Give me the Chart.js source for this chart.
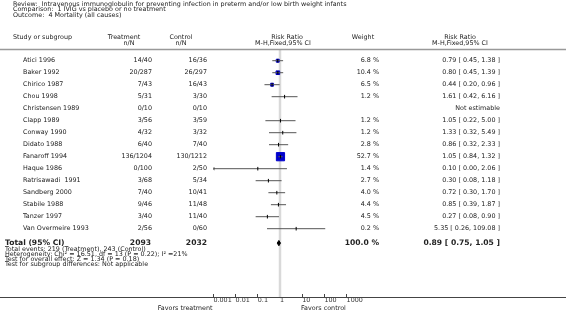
<!DOCTYPE html>
<html>
<head>
<meta charset="utf-8">
<script src="https://cdn.jsdelivr.net/npm/chart.js@4.4.0/dist/chart.umd.min.js"></script>
<style>
  html, body { margin: 0; padding: 0; background: #fff; }
</style>
</head>
<body>
<canvas id="forest" width="566" height="313"></canvas>
<script>
// header text
var titleLines = [
  'Review:  Intravenous immunoglobulin for preventing infection in preterm and/or low birth weight infants',
  'Comparison:  1 IVIG vs placebo or no treatment',
  'Outcome:  4 Mortality (all causes)'
];

// one entry per study
var studies = ['Atici 1996', 'Baker 1992', 'Chirico 1987', 'Chou 1998', 'Christensen 1989', 'Clapp 1989',
  'Conway 1990', 'Didato 1988', 'Fanaroff 1994', 'Haque 1986', 'Ratrisawadi  1991', 'Sandberg 2000',
  'Stabile 1988', 'Tanzer 1997', 'Van Overmeire 1993'];
var treatment = ['14/40', '20/287', '7/43', '5/31', '0/10', '3/56', '4/32', '6/40', '136/1204', '0/100',
  '3/68', '7/40', '9/46', '3/40', '2/56'];
var control = ['16/36', '26/297', '16/43', '3/30', '0/10', '3/59', '3/32', '7/40', '130/1212', '2/50',
  '5/34', '10/41', '11/48', '11/40', '0/60'];
var weights = [6.8, 10.4, 6.5, 1.2, null, 1.2, 1.2, 2.8, 52.7, 1.4, 2.7, 4.0, 4.4, 4.5, 0.2];
var rr = [0.79, 0.80, 0.44, 1.61, null, 1.05, 1.33, 0.86, 1.05, 0.10, 0.30, 0.72, 0.85, 0.27, 5.35];
var lower = [0.45, 0.45, 0.20, 0.42, null, 0.22, 0.32, 0.32, 0.84, 0.00, 0.08, 0.30, 0.39, 0.08, 0.26];
var upper = [1.38, 1.39, 0.96, 6.16, null, 5.00, 5.49, 2.33, 1.32, 2.06, 1.18, 1.70, 1.87, 0.90, 109.08];

// pooled result
var totalLabel = 'Total (95% CI)';
var totalTreatment = 2093;
var totalControl = 2032;
var totalWeight = 100.0;
var totalRR = [0.89, 0.75, 1.05]; // estimate, lower, upper

var footnotes = [
  'Total events: 219 (Treatment), 243 (Control)',
  'Heterogeneity: Chi\u00b2 = 16.51, df = 13 (P = 0.22); I\u00b2 =21%',
  'Test for overall effect: Z = 1.34 (P = 0.18)',
  'Test for subgroup differences: Not applicable'
];

var tickValues = [0.001, 0.01, 0.1, 1, 10, 100, 1000];
var tickLabels = ['0.001', '0.01', '0.1', '1', '10', '100', '1000'];

var FONT = '"DejaVu Sans", Verdana, sans-serif';
var TOTAL_ROW = 15.2;
var xMin = tickValues[0], xMax = tickValues[tickValues.length - 1];

function font(size, bold) {
  return (bold ? 'bold ' : '') + size + 'px ' + FONT;
}
function fmt(v) {
  return v.toFixed(2);
}

// build the plotted points
var ciLine = [], estimates = [], boxes = [], boxSizes = [], arrows = [];
for (var i = 0; i < studies.length; i++) {
  if (rr[i] == null) continue;
  var lo = lower[i] > xMin ? lower[i] : xMin;
  var hi = upper[i] < xMax ? upper[i] : xMax;
  ciLine.push({x: lo, y: i}, {x: hi, y: i}, {x: null, y: null});
  estimates.push({x: rr[i], y: i});
  if (lower[i] <= xMin) arrows.push({x: xMin, y: i});
  // boxes only show up for the heavier studies
  if (weights[i] >= 5) {
    boxes.push({x: rr[i], y: i});
    boxSizes.push(0.8 * Math.sqrt(weights[i]));
  }
}
var h = 0.22;
var diamond = [
  {x: totalRR[1], y: TOTAL_ROW}, {x: totalRR[0], y: TOTAL_ROW - h},
  {x: totalRR[2], y: TOTAL_ROW}, {x: totalRR[0], y: TOTAL_ROW + h},
  {x: totalRR[1], y: TOTAL_ROW}
];

var tablePlugin = {
  id: 'tableText',
  afterDraw: function(chart) {
    var ctx = chart.ctx;
    var ys = chart.scales.y;
    var W = chart.width;
    ctx.save();
    ctx.fillStyle = '#222';
    ctx.textBaseline = 'middle';

    // title block
    ctx.font = font(6.4, false);
    ctx.textAlign = 'left';
    for (var t = 0; t < titleLines.length; t++) {
      ctx.fillText(titleLines[t], 13, 4.5 + t * 5.2);
    }

    // column headers
    ctx.fillText('Study or subgroup', 13, 37);
    ctx.textAlign = 'center';
    ctx.fillText('Treatment', 124, 37);
    ctx.fillText('n/N', 129, 43);
    ctx.fillText('Control', 181, 37);
    ctx.fillText('n/N', 181, 43);
    ctx.fillText('Risk Ratio', 287, 37);
    ctx.fillText('M-H,Fixed,95% CI', 283, 43);
    ctx.fillText('Weight', 363, 37);
    ctx.fillText('Risk Ratio', 460, 37);
    ctx.fillText('M-H,Fixed,95% CI', 460, 43);

    // rules
    ctx.strokeStyle = '#999';
    ctx.lineWidth = 1.5;
    ctx.beginPath();
    ctx.moveTo(0, 49.5);
    ctx.lineTo(W, 49.5);
    ctx.stroke();
    ctx.strokeStyle = '#444';
    ctx.lineWidth = 1;
    ctx.beginPath();
    ctx.moveTo(0, 297.5);
    ctx.lineTo(W, 297.5);
    ctx.stroke();

    // study rows
    for (var i = 0; i < studies.length; i++) {
      var y = ys.getPixelForValue(i);
      ctx.textAlign = 'left';
      ctx.fillText(studies[i], 23, y);
      ctx.textAlign = 'right';
      ctx.fillText(treatment[i], 152, y);
      ctx.fillText(control[i], 207, y);
      if (weights[i] != null) ctx.fillText(weights[i].toFixed(1) + ' %', 379, y);
      if (rr[i] == null) {
        ctx.fillText('Not estimable', 500, y);
      } else {
        ctx.fillText(fmt(rr[i]) + ' [ ' + fmt(lower[i]) + ', ' + fmt(upper[i]) + ' ]', 500, y);
      }
    }

    // pooled row
    var ty = ys.getPixelForValue(TOTAL_ROW);
    ctx.font = font(7.6, true);
    ctx.textAlign = 'left';
    ctx.fillText(totalLabel, 5, ty);
    ctx.textAlign = 'right';
    ctx.fillText(String(totalTreatment), 151, ty);
    ctx.fillText(String(totalControl), 207, ty);
    ctx.fillText(totalWeight.toFixed(1) + ' %', 379, ty);
    ctx.fillText(fmt(totalRR[0]) + ' [ ' + fmt(totalRR[1]) + ', ' + fmt(totalRR[2]) + ' ]', 500, ty);

    ctx.font = font(6.4, false);
    ctx.textAlign = 'left';
    for (var k = 0; k < footnotes.length; k++) {
      ctx.fillText(footnotes[k], 5, ty + 6 + k * 5.1);
    }

    // favours labels under the axis
    ctx.textAlign = 'right';
    ctx.fillText('Favors treatment', 212.5, 308);
    ctx.textAlign = 'left';
    ctx.fillText('Favors control', 301, 308);
    ctx.restore();
  }
};

new Chart(document.getElementById('forest').getContext('2d'), {
  type: 'scatter',
  data: {
    datasets: [
      {
        // point estimate tick
        data: estimates,
        pointStyle: 'line',
        rotation: 90,
        radius: 1.8,
        borderColor: '#000',
        borderWidth: 1,
        order: 0
      },
      {
        data: arrows,
        pointStyle: 'triangle',
        rotation: -90,
        radius: 2,
        backgroundColor: '#333',
        borderColor: '#333',
        borderWidth: 0,
        order: 1
      },
      {
        // confidence intervals
        data: ciLine,
        showLine: true,
        spanGaps: false,
        borderColor: '#555',
        borderWidth: 1,
        radius: 0,
        order: 2
      },
      {
        data: boxes,
        pointStyle: 'rect',
        radius: boxSizes,
        backgroundColor: '#0000cc',
        borderColor: '#0000cc',
        borderWidth: 1,
        order: 3
      },
      {
        data: diamond,
        showLine: true,
        fill: 'shape',
        backgroundColor: '#000',
        borderColor: '#000',
        borderWidth: 1,
        radius: 0,
        order: 4
      },
      {
        // line of no effect
        data: [{x: 1, y: -0.975}, {x: 1, y: 19.7}],
        showLine: true,
        borderColor: '#d9d9d9',
        borderWidth: 2.5,
        radius: 0,
        clip: false,
        order: 5
      }
    ]
  },
  options: {
    responsive: false,
    animation: false,
    events: [],
    layout: { padding: { left: 213.4, right: 219.4, top: 49, bottom: 0 } },
    plugins: { legend: { display: false }, tooltip: { enabled: false } },
    scales: {
      x: {
        type: 'logarithmic',
        min: xMin,
        max: xMax,
        afterBuildTicks: function(scale) {
          scale.ticks = tickValues.map(function(v) { return {value: v}; });
        },
        afterFit: function(scale) { scale.height = 19; },
        ticks: {
          align: 'start',
          padding: 0,
          color: '#333',
          font: { family: FONT, size: 6.4 },
          autoSkip: false,
          maxRotation: 0,
          callback: function(v) {
            var idx = tickValues.indexOf(v);
            return idx >= 0 ? tickLabels[idx] : '';
          }
        },
        grid: { drawOnChartArea: false, tickLength: 3, color: '#444' },
        border: { display: false }
      },
      y: {
        type: 'linear',
        reverse: true,
        min: -0.975,
        max: 19.4417,
        display: false
      }
    }
  },
  plugins: [tablePlugin]
});
</script>
</body>
</html>
